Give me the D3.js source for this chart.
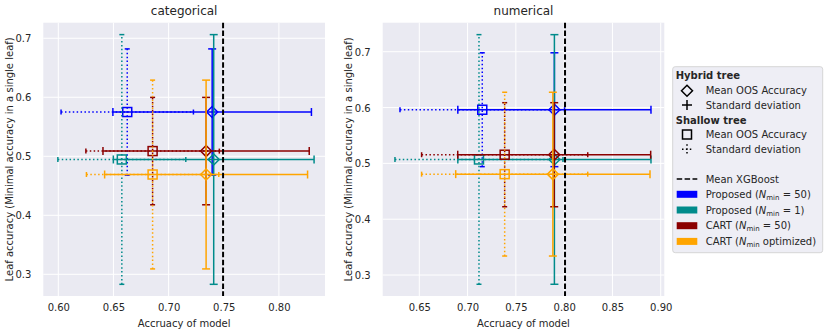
<!DOCTYPE html>
<html>
<head>
<meta charset="utf-8">
<script src="https://cdn.jsdelivr.net/npm/d3@7.9.0/dist/d3.min.js"></script>
<style>
  body { margin: 0; background: #fff; }
  svg { display: block; font-family: 'DejaVu Sans', sans-serif; }
</style>
</head>
<body>
<svg id="chart" width="830" height="335"></svg>
<script>
// series: Proposed (N=50), Proposed (N=1), CART (N=50), CART (N optimized)
const seriesNames = ['Proposed', 'Proposed', 'CART', 'CART'];
const seriesNmin = [' = 50)', ' = 1)', ' = 50)', ' optimized)'];
const colors = ['#0000ff', '#008b8b', '#8b0000', '#ffa500'];

// categorical
const catHybridX = [0.7395, 0.7409, 0.7340, 0.7340];
const catHybridXErr = [0.090, 0.091, 0.0935, 0.092];
const catShallowX = [0.6625, 0.6576, 0.6855, 0.6855];
const catShallowXErr = [0.060, 0.058, 0.0605, 0.060];
const catY = [0.575, 0.4946, 0.5088, 0.4691];
const catYErr = [0.107, 0.2116, 0.091, 0.160];
const catXgb = 0.7494;

// numerical
const numHybridX = [0.7899, 0.7899, 0.7897, 0.7883];
const numHybridXErr = [0.100, 0.100, 0.0999, 0.1006];
const numShallowX = [0.7152, 0.7118, 0.7384, 0.7384];
const numShallowXErr = [0.0852, 0.087, 0.086, 0.086];
const numY = [0.5961, 0.507, 0.5155, 0.4807];
const numYErr = [0.102, 0.2236, 0.0932, 0.1467];
const numXgb = 0.8009;

const catXTicks = [0.60, 0.65, 0.70, 0.75, 0.80];
const numXTicks = [0.65, 0.70, 0.75, 0.80, 0.85, 0.90];
const yTicks = [0.3, 0.4, 0.5, 0.6, 0.7];

const svg = d3.select('#chart');
const textColor = '#262626';

const panels = [
  {
    title: 'categorical', box: [43.3, 22.7, 325, 296],
    xDomain: [0.5864, 0.8418], yDomain: [0.2632, 0.7264], xTicks: catXTicks,
    hx: catHybridX, hxe: catHybridXErr, sx: catShallowX, sxe: catShallowXErr,
    y: catY, ye: catYErr, xgb: catXgb
  },
  {
    title: 'numerical', box: [382.7, 22.7, 664.3, 296],
    xDomain: [0.6121, 0.9037], yDomain: [0.2624, 0.752], xTicks: numXTicks,
    hx: numHybridX, hxe: numHybridXErr, sx: numShallowX, sxe: numShallowXErr,
    y: numY, ye: numYErr, xgb: numXgb
  }
];

function errorbar(g, x, y, cx, cy, xe, ye, color, dotted, marker) {
  const dash = dotted ? '1.5,2.4' : null;
  const cap = dotted ? 2.5 : 4;
  const px = x(cx), py = y(cy);
  g.append('line')
    .attr('x1', x(cx - xe)).attr('x2', x(cx + xe)).attr('y1', py).attr('y2', py)
    .attr('stroke', color).attr('stroke-width', 1.5).attr('stroke-dasharray', dash);
  g.append('line')
    .attr('x1', px).attr('x2', px).attr('y1', y(cy - ye)).attr('y2', y(cy + ye))
    .attr('stroke', color).attr('stroke-width', 1.5).attr('stroke-dasharray', dash);
  [cx - xe, cx + xe].forEach((v) => {
    g.append('line')
      .attr('x1', x(v)).attr('x2', x(v)).attr('y1', py - cap).attr('y2', py + cap)
      .attr('stroke', color).attr('stroke-width', 1.5);
  });
  [cy - ye, cy + ye].forEach((v) => {
    g.append('line')
      .attr('x1', px - cap).attr('x2', px + cap).attr('y1', y(v)).attr('y2', y(v))
      .attr('stroke', color).attr('stroke-width', 1.5);
  });
  drawMarker(g, px, py, marker, color);
}

function drawMarker(g, px, py, marker, color) {
  if (marker === 'diamond') {
    const r = 5.5;
    g.append('path')
      .attr('d', `M${px},${py - r}L${px + r},${py}L${px},${py + r}L${px - r},${py}Z`)
      .attr('fill', 'none').attr('stroke', color).attr('stroke-width', 1.5);
  } else {
    const r = 4.5;
    g.append('rect')
      .attr('x', px - r).attr('y', py - r).attr('width', 2 * r).attr('height', 2 * r)
      .attr('fill', 'none').attr('stroke', color).attr('stroke-width', 1.5);
  }
}

panels.forEach((p) => {
  const [l, t, r, b] = p.box;
  const x = d3.scaleLinear().domain(p.xDomain).range([l, r]);
  const y = d3.scaleLinear().domain(p.yDomain).range([b, t]);
  const g = svg.append('g');

  g.append('rect').attr('x', l).attr('y', t).attr('width', r - l).attr('height', b - t)
    .attr('fill', '#eaeaf2');

  // grid
  g.selectAll('.gx').data(p.xTicks).join('line')
    .attr('x1', (d) => x(d)).attr('x2', (d) => x(d)).attr('y1', t).attr('y2', b)
    .attr('stroke', '#fff').attr('stroke-width', 1);
  g.selectAll('.gy').data(yTicks).join('line')
    .attr('y1', (d) => y(d)).attr('y2', (d) => y(d)).attr('x1', l).attr('x2', r)
    .attr('stroke', '#fff').attr('stroke-width', 1);

  // axes (no domain / ticks, seaborn darkgrid look)
  const xAxis = g.append('g').attr('transform', `translate(0,${b})`)
    .call(d3.axisBottom(x).tickValues(p.xTicks).tickFormat(d3.format('.2f')).tickSize(0).tickPadding(15));
  const yAxis = g.append('g').attr('transform', `translate(${l},0)`)
    .call(d3.axisLeft(y).tickValues(yTicks).tickFormat(d3.format('.1f')).tickSize(0).tickPadding(12));
  [xAxis, yAxis].forEach((a) => {
    a.select('.domain').remove();
    a.selectAll('text').attr('fill', textColor).attr('font-size', 10)
      .attr('font-family', "'DejaVu Sans', sans-serif");
  });
  xAxis.selectAll('text').attr('dy', 0).attr('y', 15);
  yAxis.selectAll('text').attr('dy', '0.35em');

  // error bars
  seriesNames.forEach((_, i) => {
    errorbar(g, x, y, p.hx[i], p.y[i], p.hxe[i], p.ye[i], colors[i], false, 'diamond');
    errorbar(g, x, y, p.sx[i], p.y[i], p.sxe[i], p.ye[i], colors[i], true, 'square');
  });

  g.append('line')
    .attr('x1', x(p.xgb)).attr('x2', x(p.xgb)).attr('y1', t).attr('y2', b)
    .attr('stroke', '#000').attr('stroke-width', 2).attr('stroke-dasharray', '5.5,2.4');

  // labels
  g.append('text').attr('x', (l + r) / 2).attr('y', 15).attr('text-anchor', 'middle')
    .attr('font-size', 12).attr('fill', textColor).text(p.title);
  g.append('text').attr('x', (l + r) / 2).attr('y', 326.5).attr('text-anchor', 'middle')
    .attr('font-size', 10).attr('fill', textColor).text('Accruacy of model');
  g.append('text')
    .attr('transform', `translate(${l - 30.5},${(t + b) / 2}) rotate(-90)`)
    .attr('text-anchor', 'middle').attr('font-size', 10).attr('fill', textColor)
    .text('Leaf accuracy (Minimal accuracy in a single leaf)');
});

// legend
const lg = svg.append('g');
lg.append('rect').attr('x', 672.7).attr('y', 66.7).attr('width', 150).attr('height', 186)
  .attr('rx', 2.5).attr('fill', '#eeeef5').attr('stroke', '#d6d6d6').attr('stroke-width', 1);

const hx = 687, tx = 705.7;
function legText(yc, str, bold) {
  return lg.append('text').attr('x', bold ? 675.7 : tx).attr('y', yc).attr('dy', '0.35em')
    .attr('font-size', 10).attr('font-weight', bold ? 'bold' : null).attr('fill', textColor)
    .text(str);
}
legText(75.7, 'Hybrid tree', true);
drawMarker(lg, hx, 90.7, 'diamond', '#000');
legText(90.7, 'Mean OOS Accuracy');
lg.append('path').attr('d', `M${hx - 5},105H${hx + 5}M${hx},100V110`)
  .attr('stroke', '#000').attr('stroke-width', 1.5);
legText(105, 'Standard deviation');
legText(120, 'Shallow tree', true);
drawMarker(lg, hx, 134.5, 'square', '#000');
legText(134.5, 'Mean OOS Accuracy');
lg.append('path').attr('d', `M${hx - 5},149.3H${hx + 5}M${hx},144.3V154.3`)
  .attr('stroke', '#000').attr('stroke-width', 1.5).attr('stroke-dasharray', '1.5,2.4');
legText(149.3, 'Standard deviation');

lg.append('line').attr('x1', 676.7).attr('x2', 697.3).attr('y1', 179).attr('y2', 179)
  .attr('stroke', '#000').attr('stroke-width', 1.5).attr('stroke-dasharray', '5.5,2.4');
legText(179, 'Mean XGBoost');

const patchY = [194.3, 210, 225.7, 241.4];
seriesNames.forEach((name, i) => {
  lg.append('rect').attr('x', 676.7).attr('y', patchY[i] - 3.5).attr('width', 20.6).attr('height', 7)
    .attr('fill', colors[i]);
  const tEl = lg.append('text').attr('x', tx).attr('y', patchY[i]).attr('dy', '0.35em')
    .attr('font-size', 10).attr('fill', textColor);
  tEl.append('tspan').text(name + ' (');
  tEl.append('tspan').attr('font-style', 'italic').text('N');
  tEl.append('tspan').attr('font-size', 7).attr('dy', 2).text('min');
  tEl.append('tspan').attr('dy', -2).text(seriesNmin[i]);
});
</script>
</body>
</html>
